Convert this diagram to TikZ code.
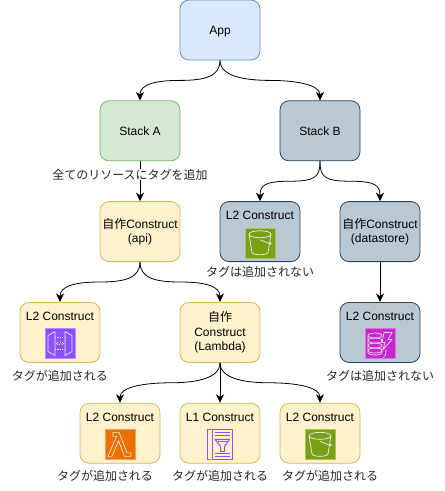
\documentclass[tikz,border=0pt]{standalone}
\usepackage{fontspec}
\setmainfont{Liberation Sans}
\newfontfamily\cjk{Noto Sans CJK JP}
\usetikzlibrary{calc,positioning,arrows.meta}
\definecolor{AppFill}{HTML}{DAE8FC}
\definecolor{AppLine}{HTML}{6C8EBF}
\definecolor{StackAFill}{HTML}{D5E8D4}
\definecolor{StackALine}{HTML}{82B366}
\definecolor{SlateFill}{HTML}{BAC8D3}
\definecolor{SlateLine}{HTML}{23445D}
\definecolor{TagFill}{HTML}{FFF2CC}
\definecolor{TagLine}{HTML}{D6B656}
\definecolor{BucketGreen}{HTML}{7AA116}
\definecolor{GatePurple}{HTML}{8C4FFF}
\definecolor{LambdaOrange}{HTML}{ED7100}
\definecolor{DynaPink}{HTML}{C925D1}
\tikzset{
  box/.style={draw,rounded corners=9pt,minimum width=80pt,minimum height=60pt,align=center,inner sep=0pt,line width=.8pt,font=\fontsize{12}{14.5}\selectfont},
  appbox/.style={box,draw=AppLine,fill=AppFill},
  stackabox/.style={box,draw=StackALine,fill=StackAFill},
  slatebox/.style={box,draw=SlateLine,fill=SlateFill},
  tagbox/.style={box,draw=TagLine,fill=TagFill},
  boxtitle/.style={font=\fontsize{12}{14.5}\selectfont,inner sep=0pt},
  tagnote/.style={font=\cjk\fontsize{12}{14.5}\selectfont,text=black!85,inner sep=0pt},
  icon/.style={minimum size=30pt,inner sep=0pt,draw=white!35!#1,line width=.5pt,fill=#1},
  link/.style={-{Stealth[length=8.5pt,width=8pt,inset=2.5pt]},line width=.8pt},
  glyph/.style={draw=white!92!black,line width=.7pt,line join=round},
  bucket/.pic={
    \draw[glyph] (0,8.5) ellipse (11 and 3.5);
    \draw[glyph] (-11,8.5) -- (-8,-9.5) arc[start angle=180,end angle=360,x radius=8,y radius=2.5] -- (11,8.5);
    \draw[glyph] (0,3) -- (11,-1.5) arc[start angle=-60,end angle=120,radius=.9];
  },
  gate/.pic={
    \draw[glyph] (-12,8) -- (-5,12) -- (-5,-12) -- (-12,-8) -- cycle;
    \draw[glyph] (12,8) -- (5,12) -- (5,-12) -- (12,-8) -- cycle;
    \draw[glyph,dash pattern=on 1.2pt off 1.2pt] (-5,6) -- (5,6) (-5,-6) -- (5,-6);
    \draw[glyph,line width=.5pt] (-2,1.5) -- (-3.6,0) -- (-2,-1.5) (2,1.5) -- (3.6,0) -- (2,-1.5) (.8,2) -- (-.8,-2);
  },
  lambdamark/.pic={
    \draw[glyph] (-7,12) -- (-1,12) -- (7,-8.5) -- (11,-8.5) -- (11,-12) -- (4.5,-12) -- (-1.5,3.5) -- (-8,-12) -- (-12,-12) -- (-3.5,8) -- (-7,8) -- cycle;
  },
  dynamark/.pic={
    \foreach \ypos in {8,3,-2,-7}{
      \draw[glyph] (-5,\ypos) ellipse (7 and 2.5);
    }
    \draw[glyph] (-12,8) -- (-12,-9) arc[start angle=180,end angle=360,x radius=7,y radius=2.5] -- (2,-4);
    \draw[glyph] (4,11) -- (12,11) -- (8,4) -- (12,4) -- (3,-6) -- (5,1) -- (2,1) -- cycle;
    \draw[glyph] (6,-6) -- (6,-9) arc[start angle=0,end angle=-60,radius=6];
  },
  templatemark/.pic={
    \begin{scope}[draw=GatePurple,line width=1pt,line join=round]
      \draw (-9.5,15) -- (-12.5,15) -- (-12.5,-15) -- (-9.5,-15);
      \draw (-8,15) rectangle (12.5,-15);
      \draw (-5,11.5) -- (9.5,11.5) (-5,8.5) -- (9.5,8.5) (-5,-9) -- (9.5,-9) (-5,-12) -- (9.5,-12);
      \draw (-5,5) -- (9.5,5) -- (4.5,-2) -- (4.5,-7) -- (.5,-7) -- (.5,-2) -- cycle;
      \draw (-2,2.5) -- (7,2.5);
    \end{scope}
  }
}
% curved connector with a flat middle
\newcommand{\curvelink}[2]{%
  \coordinate (m) at ($(#1.south)!.5!(#2.north)$);
  \draw[link] (#1.south) .. controls +(0,-16) and ($(m)!25pt!(#1.south|-m)$) .. (m)
    .. controls ($(m)!25pt!(#2.north|-m)$) and +(0,16) .. (#2.north);
}

\begin{document}
\begin{tikzpicture}[x=1pt,y=1pt,node distance=40pt]
\useasboundingbox (0,0) rectangle (445,-491);
\node[appbox,text depth=0pt] (app) at (220,-30) {App};
\node[stackabox,below=of app,xshift=-80pt] (stacka) {Stack A};
\node[slatebox,below=of app,xshift=100pt] (stackb) {Stack B};
\node[tagbox,below=of stacka] (api) {{\cjk 自作}Construct\\(api)};
\node[slatebox,below=of stackb,xshift=-60pt] (bucketa) {};
\node[slatebox,below=of stackb,xshift=60pt] (datastore) {{\cjk 自作}Construct\\(datastore)};
\node[tagbox,below=of api,xshift=-80pt] (gateway) {};
\node[tagbox,below=of api,xshift=80pt] (lambda) {{\cjk 自作}\\Construct\\(Lambda)};
\node[slatebox,below=of datastore] (dynamo) {};
\node[tagbox,below=of lambda,xshift=-100pt] (func) {};
\node[tagbox,below=of lambda] (cfn) {};
\node[tagbox,below=of lambda,xshift=100pt] (bucketb) {};

% titles inside the boxes
\node[boxtitle,below=10pt of bucketa.north] (bucketatitle) {L2 Construct};
\node[boxtitle,below=10pt of gateway.north] (gatewaytitle) {L2 Construct};
\node[boxtitle,below=10pt of dynamo.north] (dynamotitle) {L2 Construct};
\node[boxtitle,below=10pt of func.north] (functitle) {L2 Construct};
\node[boxtitle,below=10pt of cfn.north] (cfntitle) {L1 Construct};
\node[boxtitle,below=10pt of bucketb.north] (bucketbtitle) {L2 Construct};

% icons
\node[icon=BucketGreen,above=4pt of bucketa.south] (bucketaicon) {};
\node[icon=GatePurple,above=4pt of gateway.south] (gatewayicon) {};
\node[icon=DynaPink,above=4pt of dynamo.south] (dynamoicon) {};
\node[icon=LambdaOrange,above=4pt of func.south] (funcicon) {};
\node[minimum size=30pt,inner sep=0pt,above=4pt of cfn.south] (cfnicon) {};
\node[icon=BucketGreen,above=4pt of bucketb.south] (bucketbicon) {};
\pic at (bucketaicon) {bucket};
\pic at (gatewayicon) {gate};
\pic at (dynamoicon) {dynamark};
\pic at (funcicon) {lambdamark};
\pic at (cfnicon) {templatemark};
\pic at (bucketbicon) {bucket};

\curvelink{app}{stacka}
\curvelink{app}{stackb}
\curvelink{stackb}{bucketa}
\curvelink{stackb}{datastore}
\curvelink{api}{gateway}
\curvelink{api}{lambda}
\curvelink{lambda}{func}
\curvelink{lambda}{bucketb}
\draw[link] (stacka) -- (api);
\draw[link] (datastore) -- (dynamo);
\draw[link] (lambda) -- (cfn);

\node[tagnote,fill=white,below=8pt of stacka,xshift=-10pt] (allnote) {全てのリソースにタグを追加};
\node[tagnote,below=4pt of bucketa] (bucketanote) {タグは追加されない};
\node[tagnote,below=7pt of gateway] (gatewaynote) {タグが追加される};
\node[tagnote,below=7pt of dynamo] (dynamonote) {タグは追加されない};
\node[tagnote,below=7pt of func,xshift=-15pt] (funcnote) {タグが追加される};
\node[tagnote,below=7pt of cfn] (cfnnote) {タグが追加される};
\node[tagnote,below=7pt of bucketb,xshift=10pt] (bucketbnote) {タグが追加される};
\end{tikzpicture}
\end{document}
